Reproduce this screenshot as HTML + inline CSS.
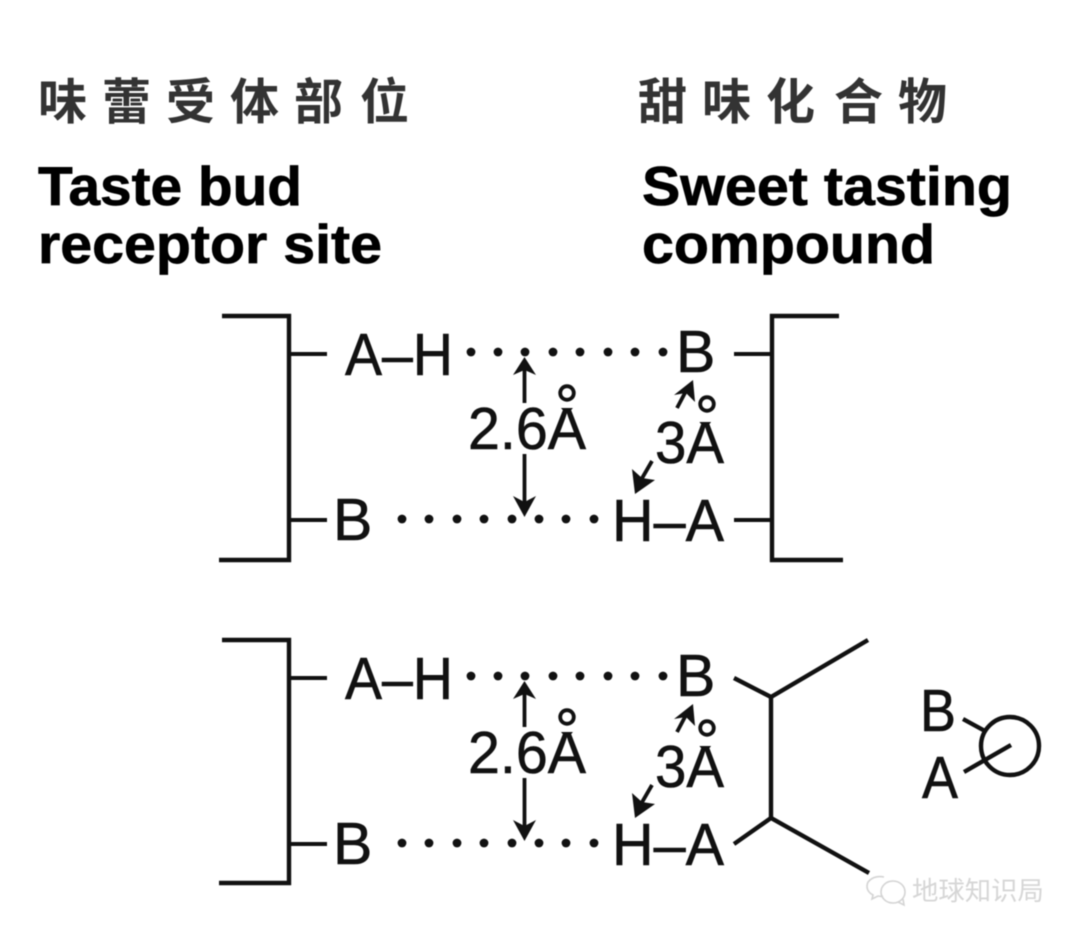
<!DOCTYPE html>
<html lang="zh"><head><meta charset="utf-8"><title>Taste bud receptor site</title>
<style>
html,body{margin:0;padding:0;background:#fff;width:1080px;height:938px;overflow:hidden}
svg{display:block;filter:blur(.4px)}
.sf{font-family:"Liberation Sans",sans-serif;font-size:59px;fill:#111;stroke:#111;stroke-width:.6}
.en{font-family:"Liberation Sans",sans-serif;font-size:55px;font-weight:700;fill:#000;stroke:#000;stroke-width:.7}
.zh{font-family:"Liberation Sans","Noto Sans CJK SC",sans-serif;font-size:49px;font-weight:700;fill:#333}
.l{fill:none;stroke:#111;stroke-width:4.4}
.t{fill:none;stroke:#111;stroke-width:4}
.a{fill:none;stroke:#111;stroke-width:3.8}
.r{fill:none;stroke:#111;stroke-width:3.8}
.d{fill:#111}
.h{fill:#111}
</style></head><body>
<svg width="1080" height="938" viewBox="0 0 1080 938" xmlns="http://www.w3.org/2000/svg">
<rect width="1080" height="938" fill="#fff"/>
<text class="zh" y="119" x="38 102 166 230 294 360">味蕾受体部位</text>
<text class="zh" y="119" x="638 702 766 834 898">甜味化合物</text>
<text class="en" x="38" y="205" textLength="264" lengthAdjust="spacingAndGlyphs">Taste bud</text>
<text class="en" x="38" y="263" textLength="344" lengthAdjust="spacingAndGlyphs">receptor site</text>
<text class="en" x="642" y="205" textLength="370" lengthAdjust="spacingAndGlyphs">Sweet tasting</text>
<text class="en" x="642" y="263" textLength="293" lengthAdjust="spacingAndGlyphs">compound</text>

<polyline class="l" points="222,316 289,316 289,560 219,560"/>
<line class="t" x1="291" y1="354" x2="327" y2="354"/>
<line class="t" x1="291" y1="520" x2="327" y2="520"/>
<polyline class="l" points="839,316 772,316 772,560 843,560"/>
<line class="t" x1="734" y1="354" x2="770" y2="354"/>
<line class="t" x1="734" y1="520" x2="770" y2="520"/>
<text class="sf" x="345" y="375" textLength="108" lengthAdjust="spacingAndGlyphs">A–H</text>
<text class="sf" x="676" y="372">B</text>
<text class="sf" x="333" y="540">B</text>
<text class="sf" x="612" y="541" textLength="112" lengthAdjust="spacingAndGlyphs">H–A</text>
<g class="d"><circle cx="471" cy="352" r="4.4"/><circle cx="498" cy="352" r="4.4"/><circle cx="525" cy="352" r="4.4"/><circle cx="553" cy="352" r="4.4"/><circle cx="580" cy="352" r="4.4"/><circle cx="608" cy="352" r="4.4"/><circle cx="635" cy="352" r="4.4"/><circle cx="663" cy="352" r="4.4"/>
<circle cx="402" cy="519" r="4.4"/><circle cx="429" cy="519" r="4.4"/><circle cx="457" cy="519" r="4.4"/><circle cx="484" cy="519" r="4.4"/><circle cx="512" cy="519" r="4.4"/><circle cx="539" cy="519" r="4.4"/><circle cx="566" cy="519" r="4.4"/><circle cx="594" cy="519" r="4.4"/></g>
<line class="a" x1="524.5" y1="370" x2="524.5" y2="403"/>
<polygon class="h" points="524.5,357 536,375 524.5,370 513,375"/>
<line class="a" x1="524.5" y1="454" x2="524.5" y2="505"/>
<polygon class="h" points="524.5,517 536,496 524.5,502 513,496"/>
<text class="sf" x="468" y="449" textLength="118" lengthAdjust="spacingAndGlyphs">2.6Å</text>
<rect x="550" y="382" width="36" height="26" fill="#fff"/>
<circle class="r" cx="567" cy="393" r="6.8"/>
<line class="a" x1="677" y1="408" x2="686" y2="391"/>
<polygon class="h" points="693,380 695,402 686,393 674,395"/>
<text class="sf" x="655" y="463" textLength="69" lengthAdjust="spacingAndGlyphs">3Å</text>
<rect x="696" y="396" width="30" height="26" fill="#fff"/>
<circle class="r" cx="707" cy="404" r="6.8"/>
<line class="a" x1="652" y1="461" x2="641" y2="480"/>
<polygon class="h" points="635,494 632,469 642,478 655,480"/>

<polyline class="l" points="222,640 289,640 289,883 219,883"/>
<line class="t" x1="291" y1="678" x2="327" y2="678"/>
<line class="t" x1="291" y1="844" x2="327" y2="844"/>
<text class="sf" x="345" y="699" textLength="108" lengthAdjust="spacingAndGlyphs">A–H</text>
<text class="sf" x="676" y="696">B</text>
<text class="sf" x="333" y="864">B</text>
<text class="sf" x="612" y="865" textLength="112" lengthAdjust="spacingAndGlyphs">H–A</text>
<g class="d"><circle cx="471" cy="676" r="4.4"/><circle cx="498" cy="676" r="4.4"/><circle cx="525" cy="676" r="4.4"/><circle cx="553" cy="676" r="4.4"/><circle cx="580" cy="676" r="4.4"/><circle cx="608" cy="676" r="4.4"/><circle cx="635" cy="676" r="4.4"/><circle cx="663" cy="676" r="4.4"/>
<circle cx="402" cy="843" r="4.4"/><circle cx="429" cy="843" r="4.4"/><circle cx="457" cy="843" r="4.4"/><circle cx="484" cy="843" r="4.4"/><circle cx="512" cy="843" r="4.4"/><circle cx="539" cy="843" r="4.4"/><circle cx="566" cy="843" r="4.4"/><circle cx="594" cy="843" r="4.4"/></g>
<line class="a" x1="524.5" y1="694" x2="524.5" y2="727"/>
<polygon class="h" points="524.5,681 536,699 524.5,694 513,699"/>
<line class="a" x1="524.5" y1="778" x2="524.5" y2="829"/>
<polygon class="h" points="524.5,841 536,820 524.5,826 513,820"/>
<text class="sf" x="468" y="773" textLength="118" lengthAdjust="spacingAndGlyphs">2.6Å</text>
<rect x="550" y="706" width="36" height="26" fill="#fff"/>
<circle class="r" cx="567" cy="717" r="6.8"/>
<line class="a" x1="677" y1="732" x2="686" y2="715"/>
<polygon class="h" points="693,704 695,726 686,717 674,719"/>
<text class="sf" x="655" y="787" textLength="69" lengthAdjust="spacingAndGlyphs">3Å</text>
<rect x="696" y="720" width="30" height="26" fill="#fff"/>
<circle class="r" cx="707" cy="728" r="6.8"/>
<line class="a" x1="652" y1="785" x2="641" y2="804"/>
<polygon class="h" points="635,818 632,793 642,802 655,804"/>

<polyline class="l" points="734,678 771,697 868,640"/>
<line class="l" x1="771" y1="697" x2="771" y2="818"/>
<polyline class="l" points="734,844 771,818 869,873"/>
<text class="sf" x="920" y="731" textLength="36" lengthAdjust="spacingAndGlyphs">B</text>
<text class="sf" x="922" y="798" textLength="36" lengthAdjust="spacingAndGlyphs">A</text>
<circle class="l" cx="1010" cy="746" r="29"/>
<line class="l" x1="963" y1="719" x2="985" y2="731"/>
<line class="l" x1="964" y1="772" x2="1011" y2="745"/>

<g fill="none" stroke="#d4d4d4" stroke-width="1.6">
<path d="M884 877c-9-2-17 3-17 9 0 4 2 7 6 9l-1 4 6-3c2 0 3 1 5 0"/>
<ellipse cx="893" cy="892" rx="12" ry="11"/>
<path d="M898 902l6 3-1-6"/>
</g>
<text x="912" y="900" font-family="'Liberation Sans','Noto Sans CJK SC',sans-serif" font-size="26.4" fill="#d6d6d6">地球知识局</text>
</svg>
</body></html>
